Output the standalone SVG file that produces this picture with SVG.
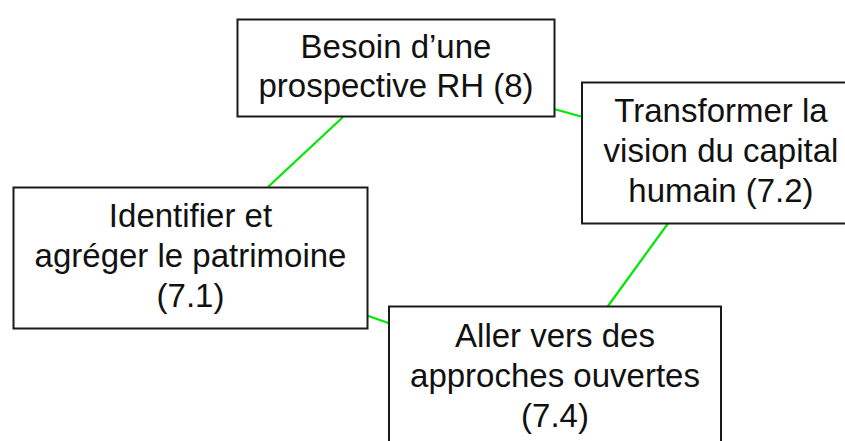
<svg xmlns="http://www.w3.org/2000/svg" width="845" height="441" viewBox="0 0 845 441">
<style>
.box{fill:#fff;stroke:#1a1a1a;stroke-width:2}
.t{font-family:"Liberation Sans",Arial,sans-serif;font-size:33px;fill:#111;text-anchor:middle}
.c{stroke:#00e800;stroke-width:2.2;fill:none}
</style>
<rect width="845" height="441" fill="#fff"/>
<g id="connectors">
<line class="c" x1="343" y1="117" x2="268" y2="187"/>
<line class="c" x1="554" y1="109" x2="582" y2="116.7"/>
<line class="c" x1="668.3" y1="223" x2="607.3" y2="307"/>
<line class="c" x1="367.7" y1="315.7" x2="389" y2="323.3"/>
</g>
<g id="n8">
<rect class="box" x="237.5" y="19.5" width="317" height="97"/>
<text class="t" x="396" y="57.5">Besoin d’une</text>
<text class="t" x="396" y="97">prospective RH (8)</text>
</g>
<g id="n72">
<rect class="box" x="582" y="82.5" width="278" height="141"/>
<text class="t" x="721" y="122.3">Transformer la</text>
<text class="t" x="721" y="161.5">vision du capital</text>
<text class="t" x="721" y="201.5">humain (7.2)</text>
</g>
<g id="n71">
<rect class="box" x="13.5" y="187.5" width="354" height="141"/>
<text class="t" x="190.5" y="227.3">Identifier et</text>
<text class="t" x="190.5" y="266.8">agréger le patrimoine</text>
<text class="t" x="190.5" y="306.5">(7.1)</text>
</g>
<g id="n74">
<rect class="box" x="389" y="306.5" width="332" height="150"/>
<text class="t" x="555" y="346.7">Aller vers des</text>
<text class="t" x="555" y="386.5">approches ouvertes</text>
<text class="t" x="555" y="426.5">(7.4)</text>
</g>
</svg>
